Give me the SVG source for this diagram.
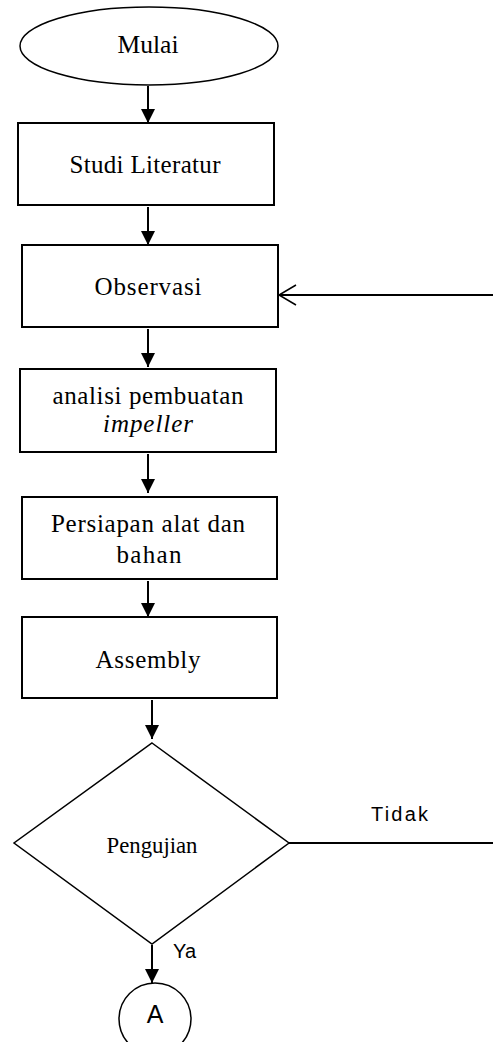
<svg xmlns="http://www.w3.org/2000/svg" width="493" height="1042" viewBox="0 0 493 1042">
<style>
.shape{fill:#fff;stroke:#000;stroke-width:2}
.thin{fill:#fff;stroke:#000;stroke-width:1.5}
.serif{font-family:"Liberation Serif","Times New Roman",serif;font-size:25px;fill:#000;text-anchor:middle}
.sans{font-family:"Liberation Sans",Arial,sans-serif;fill:#000}
.conn{fill:none;stroke:#000;stroke-width:2}
</style>
<defs>
<marker id="tri" markerUnits="userSpaceOnUse" markerWidth="14" markerHeight="16" refX="14" refY="7" orient="auto">
<path d="M0,0 L14,7 L0,14 Z" fill="#000"/>
</marker>
<marker id="open" markerUnits="userSpaceOnUse" markerWidth="22" markerHeight="24" refX="19" refY="11" orient="auto">
<path d="M2,1 L19,11 L2,21" fill="none" stroke="#000" stroke-width="1.5"/>
</marker>
</defs>
<g id="n-mulai">
<ellipse class="thin" cx="149" cy="46" rx="129" ry="39"/>
<text class="serif" x="148" y="53" textLength="61" lengthAdjust="spacingAndGlyphs">Mulai</text>
</g>
<g id="n-studi">
<rect class="shape" x="18" y="123" width="256" height="82"/>
<text class="serif" x="145" y="173" textLength="151">Studi Literatur</text>
</g>
<g id="n-observasi">
<rect class="shape" x="22" y="245" width="256" height="82"/>
<text class="serif" x="148" y="295" textLength="107">Observasi</text>
</g>
<g id="n-analisi">
<rect class="shape" x="20" y="369" width="256" height="83"/>
<text class="serif" x="148" y="404" textLength="191">analisi pembuatan</text>
<text class="serif" x="148" y="432" font-style="italic" textLength="90">impeller</text>
</g>
<g id="n-persiapan">
<rect class="shape" x="22" y="497" width="255" height="82"/>
<text class="serif" x="148" y="532" textLength="194">Persiapan alat dan</text>
<text class="serif" x="149" y="563" textLength="65">bahan</text>
</g>
<g id="n-assembly">
<rect class="shape" x="22" y="617" width="255" height="81"/>
<text class="serif" x="148" y="668" textLength="105">Assembly</text>
</g>
<g id="n-pengujian">
<polygon class="thin" points="152,743 289,843 152,944 14,843"/>
<text class="serif" x="152" y="853" style="font-size:24px" textLength="91" lengthAdjust="spacingAndGlyphs">Pengujian</text>
</g>
<g id="n-a">
<circle class="thin" cx="155" cy="1019" r="36"/>
<text class="sans" x="155" y="1023" font-size="25" text-anchor="middle">A</text>
</g>
<g id="connectors">
<line class="conn" x1="148" y1="86" x2="148" y2="123" marker-end="url(#tri)"/>
<line class="conn" x1="148" y1="207" x2="148" y2="245" marker-end="url(#tri)"/>
<line class="conn" x1="148" y1="329" x2="148" y2="367" marker-end="url(#tri)"/>
<line class="conn" x1="148" y1="454" x2="148" y2="493" marker-end="url(#tri)"/>
<line class="conn" x1="148" y1="581" x2="148" y2="617" marker-end="url(#tri)"/>
<line class="conn" x1="152" y1="700" x2="152" y2="739" marker-end="url(#tri)"/>
<line class="conn" x1="152" y1="945" x2="152" y2="983" marker-end="url(#tri)"/>
<line class="conn" x1="289" y1="843" x2="493" y2="843"/>
<line class="conn" x1="493" y1="295" x2="279" y2="295" stroke-width="1.5" marker-end="url(#open)"/>
<text class="sans" x="371" y="821" font-size="20" textLength="57">Tidak</text>
<text class="sans" x="173" y="958" font-size="20" textLength="23">Ya</text>
</g>
</svg>
